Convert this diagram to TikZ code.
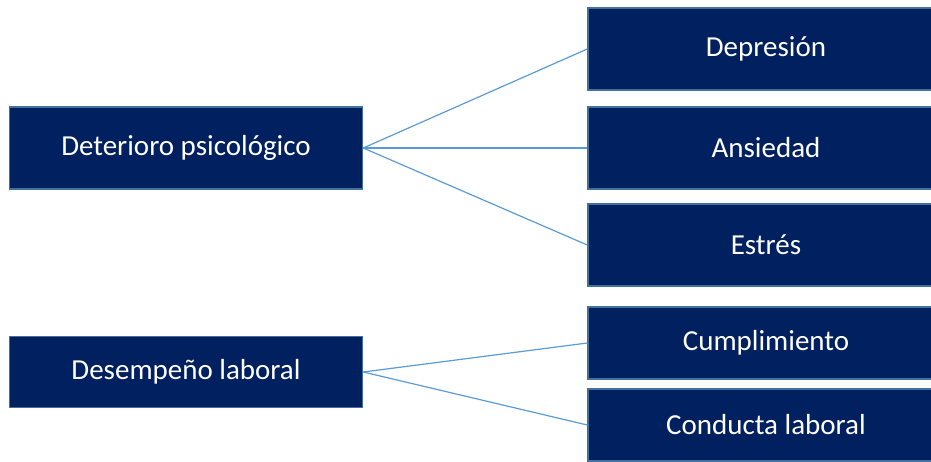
\documentclass[tikz,border=0pt]{standalone}
\usepackage{fontspec}
\setmainfont{Carlito}
\usepackage{tikz}
\usetikzlibrary{positioning,calc}
\definecolor{navy}{HTML}{002060}
\definecolor{rim}{HTML}{41719C}
\definecolor{link}{HTML}{5B9BD5}
\tikzset{box/.style={draw=rim,fill=navy,line width=1.5pt,text=white,inner sep=0pt,font=\fontsize{29}{34}\selectfont}}

\begin{document}
\begin{tikzpicture}[x=1pt, y=-1pt, auto, node distance=3cm]
        \tikzstyle{var}=[box,minimum width=353pt,minimum height=82pt]
        \tikzstyle{dim}=[box,minimum width=356pt,minimum height=82pt]
        \useasboundingbox (0,0) rectangle (931,461);
        \node[var] (deterioro) at (186,148) {Deterioro psicológico};
        \node[var,minimum height=71pt] (desempeno) at (186,372) {Desempeño laboral};
        \node[dim] (depresion) at (766,49) {Depresión};
        \node[dim] (ansiedad) at (766,148) {Ansiedad};
        \node[dim] (estres) at (766,245) {Estrés};
        \node[dim,minimum height=72pt] (cumplimiento) at (766,343) {Cumplimiento};
        \node[dim,minimum height=72pt] (conducta) at (766,425) {Conducta laboral};
        \path[draw=link,line width=1.2pt] (deterioro.east) edge node {} (depresion.west);
        \path[draw=link,line width=1.2pt] (deterioro.east) edge node {} (ansiedad.west);
        \path[draw=link,line width=1.2pt] (deterioro.east) edge node {} (estres.west);
        \path[draw=link,line width=1.2pt] (desempeno.east) edge node {} (cumplimiento.west);
        \path[draw=link,line width=1.2pt] (desempeno.east) edge node {} (conducta.west);
        \end{tikzpicture}
\end{document}
